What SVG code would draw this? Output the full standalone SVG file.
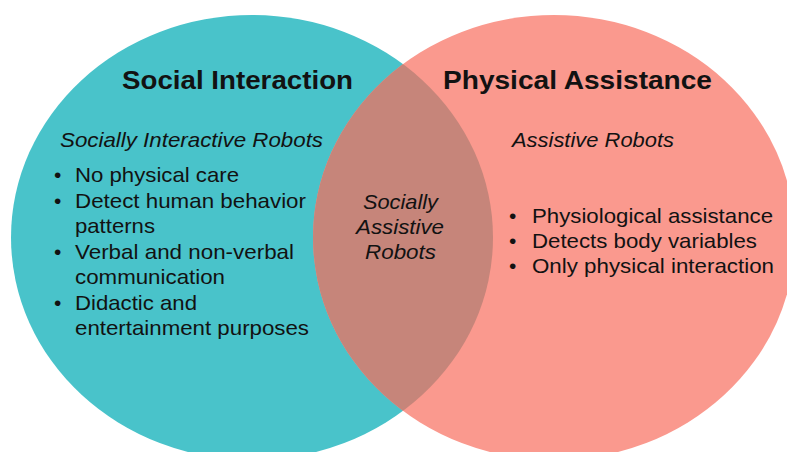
<svg xmlns="http://www.w3.org/2000/svg" width="787" height="452" viewBox="0 0 787 452">
<style>
.t{font-family:"Liberation Sans",Arial,sans-serif;fill:#121212}
.h{font-size:26px;font-weight:bold}
.i{font-size:21px;font-style:italic}
.b{font-size:21px}
.c{text-anchor:middle}
</style>
<defs>
<clipPath id="clipLeft"><ellipse cx="252" cy="237.5" rx="241" ry="222.5"/></clipPath>
</defs>
<rect width="787" height="452" fill="#ffffff"/>
<g id="social-interaction">
<ellipse cx="252" cy="237.5" rx="241" ry="222.5" fill="#49C3CA"/>
</g>
<g id="physical-assistance">
<ellipse cx="554" cy="237.5" rx="241" ry="222.5" fill="#FA998E"/>
</g>
<g id="socially-assistive">
<ellipse cx="554" cy="237.5" rx="241" ry="222.5" fill="#C6857A" clip-path="url(#clipLeft)"/>
</g>
<g id="social-interaction-text">
<text class="t h" x="122" y="89" textLength="231" lengthAdjust="spacingAndGlyphs">Social Interaction</text>
<text class="t i" x="60" y="147" textLength="263" lengthAdjust="spacingAndGlyphs">Socially Interactive Robots</text>
<text class="t b" x="54" y="182">•</text>
<text class="t b" x="75" y="182" textLength="164" lengthAdjust="spacingAndGlyphs">No physical care</text>
<text class="t b" x="54" y="208">•</text>
<text class="t b" x="75" y="208" textLength="231" lengthAdjust="spacingAndGlyphs">Detect human behavior</text>
<text class="t b" x="75" y="233" textLength="80" lengthAdjust="spacingAndGlyphs">patterns</text>
<text class="t b" x="54" y="259">•</text>
<text class="t b" x="75" y="259" textLength="219" lengthAdjust="spacingAndGlyphs">Verbal and non-verbal</text>
<text class="t b" x="75" y="284" textLength="150" lengthAdjust="spacingAndGlyphs">communication</text>
<text class="t b" x="54" y="310">•</text>
<text class="t b" x="75" y="310" textLength="122" lengthAdjust="spacingAndGlyphs">Didactic and</text>
<text class="t b" x="75" y="335" textLength="234" lengthAdjust="spacingAndGlyphs">entertainment purposes</text>
</g>
<g id="socially-assistive-text">
<text class="t i" x="363" y="209" textLength="75" lengthAdjust="spacingAndGlyphs">Socially</text>
<text class="t i" x="356" y="234" textLength="88" lengthAdjust="spacingAndGlyphs">Assistive</text>
<text class="t i" x="365" y="259" textLength="71" lengthAdjust="spacingAndGlyphs">Robots</text>
</g>
<g id="physical-assistance-text">
<text class="t h" x="443" y="89" textLength="269" lengthAdjust="spacingAndGlyphs">Physical Assistance</text>
<text class="t i" x="512" y="147" textLength="162" lengthAdjust="spacingAndGlyphs">Assistive Robots</text>
<text class="t b" x="509" y="223">•</text>
<text class="t b" x="532" y="223" textLength="241" lengthAdjust="spacingAndGlyphs">Physiological assistance</text>
<text class="t b" x="509" y="248">•</text>
<text class="t b" x="532" y="248" textLength="225" lengthAdjust="spacingAndGlyphs">Detects body variables</text>
<text class="t b" x="509" y="273">•</text>
<text class="t b" x="532" y="273" textLength="242" lengthAdjust="spacingAndGlyphs">Only physical interaction</text>
</g>
</svg>
